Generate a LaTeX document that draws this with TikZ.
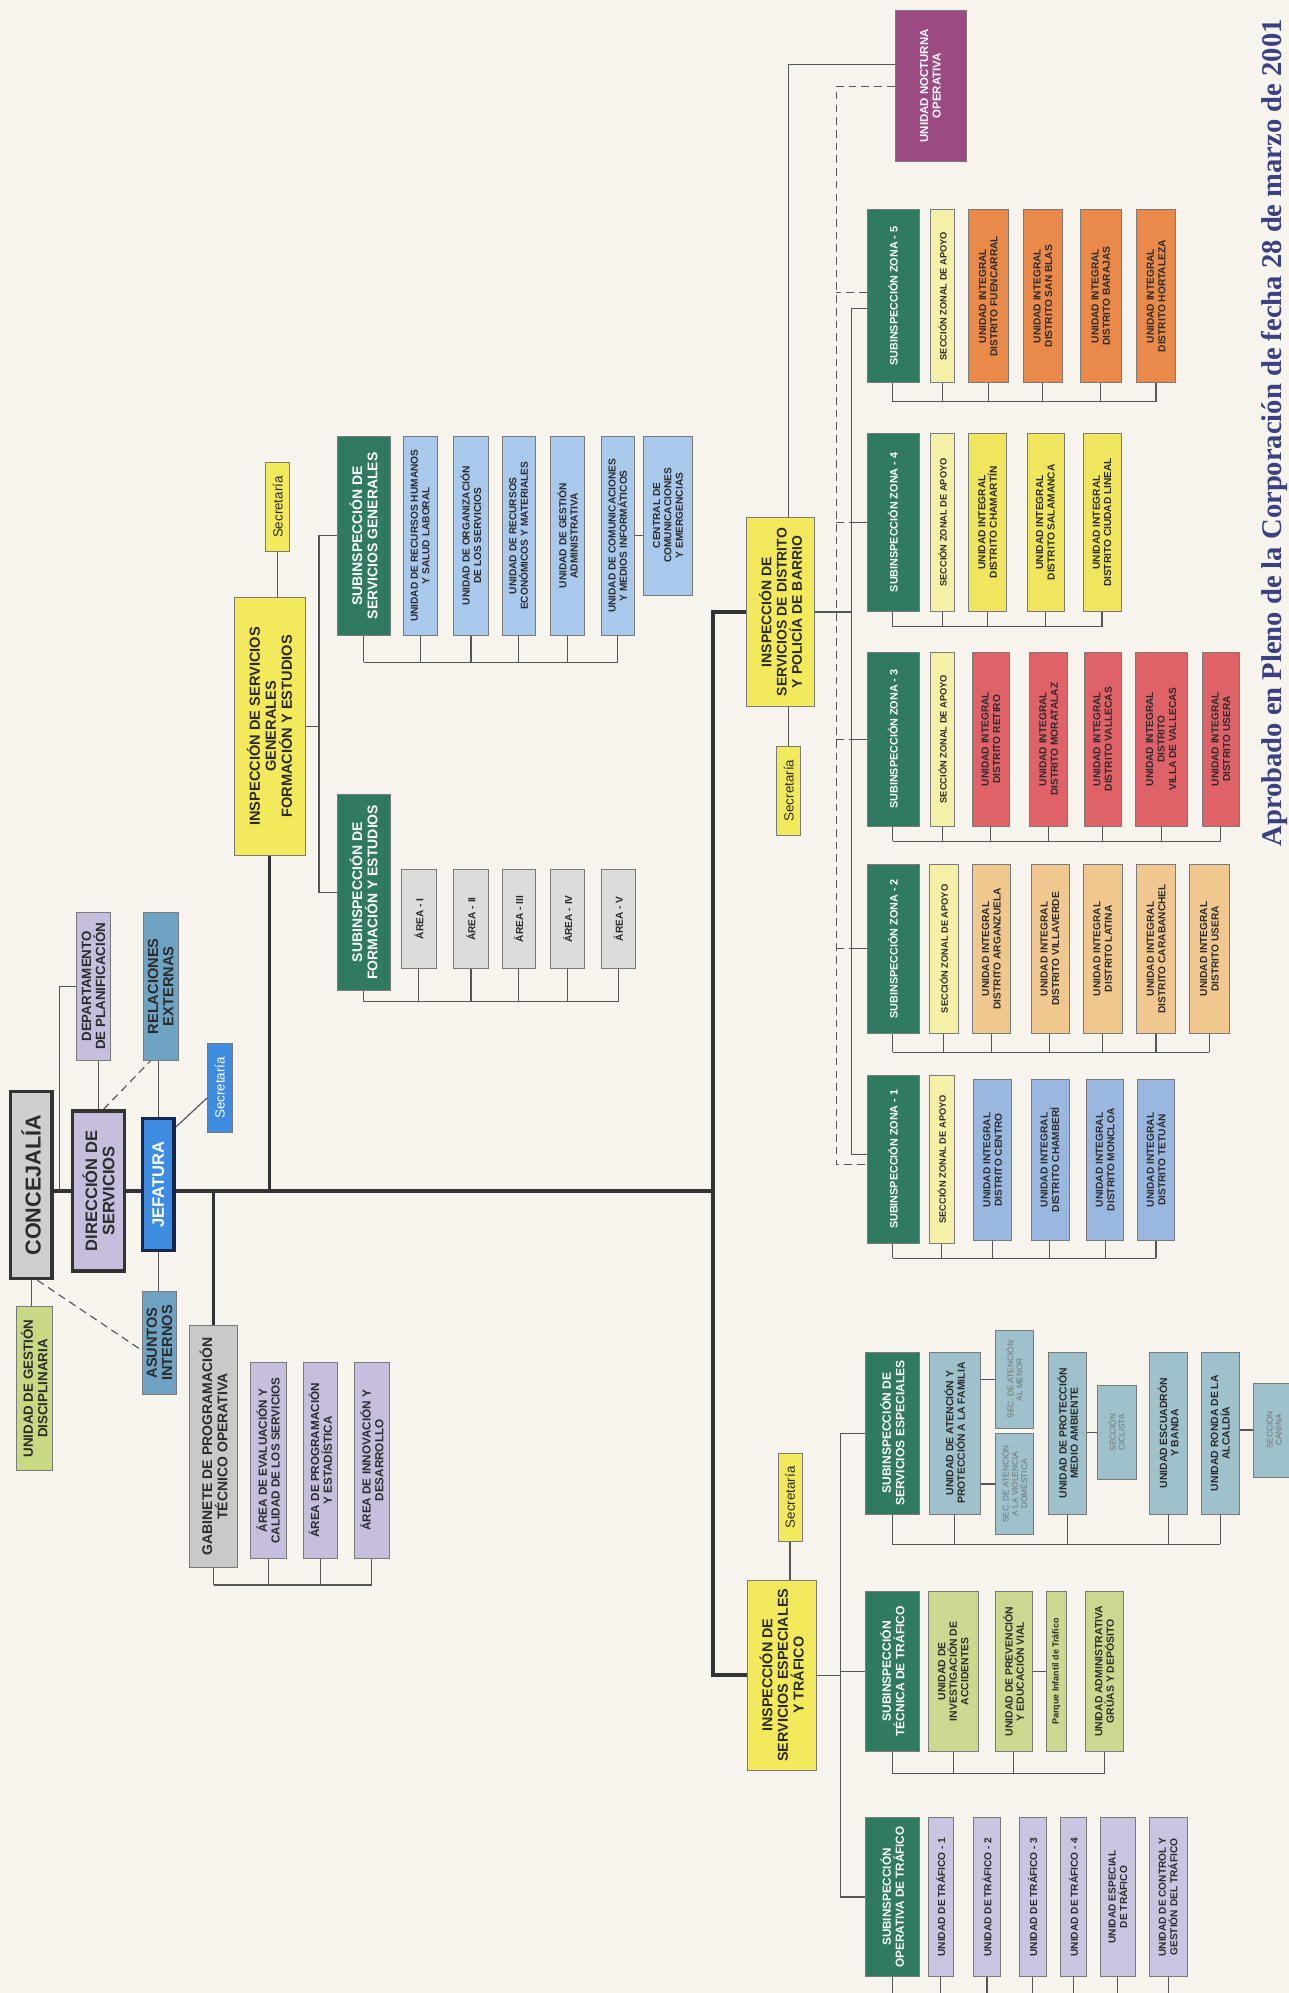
\documentclass[tikz,border=0pt]{standalone}
\usepackage{fontspec}
\setmainfont{Liberation Sans}
\newfontfamily\serifb{Liberation Serif}
\usetikzlibrary{calc}
\pgfdeclarelayer{back}\pgfdeclarelayer{bg}\pgfsetlayers{back,bg,main}
\definecolor{paper}{HTML}{F6F4EC}
\definecolor{boxline}{HTML}{7A7A7A}
\definecolor{txt}{HTML}{2B2B2B}
\definecolor{dgreen}{HTML}{2F7A60}
\definecolor{yel}{HTML}{F2EA5C}
\definecolor{pyel}{HTML}{F4F0A8}
\definecolor{zblue}{HTML}{9AB7DF}
\definecolor{ztan}{HTML}{F0C78F}
\definecolor{zred}{HTML}{DF6268}
\definecolor{zyel}{HTML}{EFE55F}
\definecolor{zora}{HTML}{E98A4A}
\definecolor{sgblue}{HTML}{A8C8EC}
\definecolor{agray}{HTML}{DCDCDA}
\definecolor{ggray}{HTML}{C9C9C7}
\definecolor{lav}{HTML}{C7BEDD}
\definecolor{steel}{HTML}{9EC1CC}
\definecolor{olive}{HTML}{CCD88F}
\definecolor{tlav}{HTML}{C9C5E1}
\definecolor{noct}{HTML}{9B4B82}
\definecolor{cgray}{HTML}{CFCFCD}
\definecolor{jblue}{HTML}{3D8CE0}
\definecolor{jborder}{HTML}{17284F}
\definecolor{relb}{HTML}{6FA3C3}
\definecolor{ugdg}{HTML}{C9D882}
\definecolor{titleblue}{HTML}{3A4080}
\definecolor{lnc}{HTML}{555555}
\definecolor{thkc}{HTML}{333333}
\tikzset{
 box/.style={rotate=90, draw=boxline, line width=0.5pt, align=center, inner sep=1pt, text=txt, font=\bfseries\fontsize{8}{9}\selectfont},
 fs/.style 2 args={font=\bfseries\fontsize{#1}{#2}\selectfont},
 fr/.style 2 args={font=\fontsize{#1}{#2}\selectfont},
 heavy/.style={draw=thkc, line width=2.6pt},
 ln/.style={draw=lnc, line width=0.9pt},
 thk/.style={draw=thkc, line width=3pt},
 dsh/.style={draw=lnc, line width=0.9pt, dash pattern=on 6pt off 4pt},
 green/.style={fill=dgreen, text=white},
 secr/.style={fr={10.5}{11}},
}
\newcommand\bx[7][]{\node[box,#1,minimum width={(#6-#4)*1pt},minimum height={(#5-#3)*1pt}] (#2) at ({(#3+#5)/2},{-(#4+#6)/2}) {#7};}
\newcommand\busd[4]{% y, first, last, list
 \coordinate (busy) at (0,-#1);
 \foreach \n in {#4}{\draw[ln] (\n.west) -- (\n.west |- busy);}
 \draw[ln] (#2.west |- busy) -- (#3.west |- busy);}
\begin{document}
\begin{tikzpicture}[x=1pt,y=1pt]
\begin{pgfonlayer}{back}
\fill[paper] (0,0) rectangle (1014,-1568);
\end{pgfonlayer}
\useasboundingbox (0,0) rectangle (1014,-1568);

% ---------- top-left block ----------
\bx[fill=cgray,heavy,fs={17}{18}]{conc}{8}{859}{41}{1006}{CONCEJALÍA}
\bx[fill=ugdg,fs={10.5}{11.5}]{ugd}{13}{1028}{41}{1157}{UNIDAD DE GESTIÓN\\DISCIPLINARIA}
\bx[fill=lav,heavy,fs={13}{13.5}]{dir}{57}{874}{98}{1000}{DIRECCIÓN DE\\SERVICIOS}
\bx[fill=jblue,draw=jborder,line width=2.6pt,text=white,fs={13}{14}]{jef}{112}{880}{137}{984}{JEFATURA}
\bx[fill=lav,fs={10.5}{11}]{dep}{60}{718}{87}{834}{DEPARTAMENTO\\DE PLANIFICACIÓN}
\bx[fill=relb,fs={11.5}{12}]{rel}{113}{718}{140}{834}{RELACIONES\\EXTERNAS}
\bx[fill=jblue,text=white,secr]{secj}{163}{821}{183}{891}{Secretaría}
\bx[fill=relb,fs={11.5}{12}]{asu}{112}{1016}{139}{1097}{ASUNTOS\\INTERNOS}
\bx[fill=ggray,fs={11}{12}]{gab}{149}{1043}{187}{1233}{GABINETE DE PROGRAMACIÓN\\TÉCNICO OPERATIVA}
\bx[fill=lav,fs={9.2}{10}]{ae}{197}{1072}{225}{1226}{ÁREA DE EVALUACIÓN Y\\CALIDAD DE LOS SERVICIOS}
\bx[fill=lav,fs={9.2}{10}]{ap}{239}{1072}{265}{1226}{ÁREA DE PROGRAMACIÓN\\Y ESTADÍSTICA}
\bx[fill=lav,fs={9.2}{10}]{ai}{279}{1072}{306}{1226}{ÁREA DE INNOVACIÓN Y\\DESARROLLO}

% ---------- servicios generales ----------
\bx[fill=yel,fs={11.5}{12.5}]{isg}{184}{470}{240}{673}{INSPECCIÓN DE SERVICIOS\\GENERALES\\FORMACIÓN Y ESTUDIOS}
\bx[fill=yel,secr]{sec2}{209}{364}{228}{434}{Secretaría}
\bx[green,fs={11}{12}]{sg}{265}{343}{307}{500}{SUBINSPECCIÓN DE\\SERVICIOS GENERALES}
\bx[fill=sgblue]{u1}{317}{343}{344}{500}{UNIDAD DE RECURSOS HUMANOS\\Y SALUD LABORAL}
\bx[fill=sgblue]{u2}{357}{343}{384}{500}{UNIDAD DE ORGANIZACIÓN\\DE LOS SERVICIOS}
\bx[fill=sgblue]{u3}{395}{343}{421}{500}{UNIDAD DE RECURSOS\\ECONÓMICOS Y MATERIALES}
\bx[fill=sgblue]{u4}{433}{343}{460}{500}{UNIDAD DE GESTIÓN\\ADMINISTRATIVA}
\bx[fill=sgblue]{u5}{473}{343}{499}{500}{UNIDAD DE COMUNICACIONES\\Y MEDIOS INFORMÁTICOS}
\bx[fill=sgblue]{cen}{506}{343}{545}{468}{CENTRAL DE\\COMUNICACIONES\\Y EMERGENCIAS}
\bx[green,fs={11}{12}]{fe}{265}{625}{307}{779}{SUBINSPECCIÓN DE\\FORMACIÓN Y ESTUDIOS}
\bx[fill=agray]{a1}{316}{684}{343}{762}{ÁREA - I}
\bx[fill=agray]{a2}{357}{684}{384}{762}{ÁREA - II}
\bx[fill=agray]{a3}{395}{684}{421}{762}{ÁREA - III}
\bx[fill=agray]{a4}{433}{684}{460}{762}{ÁREA - IV}
\bx[fill=agray]{a5}{473}{684}{500}{762}{ÁREA - V}

% ---------- distrito ----------
\bx[fill=yel,fs={11}{12}]{dist}{587}{407}{641}{556}{INSPECCIÓN DE\\SERVICIOS DE DISTRITO\\Y POLICÍA DE BARRIO}
\bx[fill=yel,secr]{sec3}{611}{587}{630}{657}{Secretaría}
\bx[fill=noct,text=white,fs={9}{10}]{noc}{704}{8}{760}{127}{UNIDAD NOCTURNA\\OPERATIVA}

\bx[green,fs={8.5}{9}]{z5}{682}{165}{723}{301}{SUBINSPECCIÓN ZONA - 5}
\bx[fill=pyel,fs={7.3}{8}]{s5}{732}{165}{751}{301}{SECCIÓN ZONAL DE APOYO}
\bx[fill=zora]{fue}{762}{165}{793}{301}{UNIDAD INTEGRAL\\DISTRITO FUENCARRAL}
\bx[fill=zora]{sbl}{805}{165}{836}{301}{UNIDAD INTEGRAL\\DISTRITO SAN BLAS}
\bx[fill=zora]{bar}{850}{165}{882}{301}{UNIDAD INTEGRAL\\DISTRITO BARAJAS}
\bx[fill=zora]{hor}{894}{165}{925}{301}{UNIDAD INTEGRAL\\DISTRITO HORTALEZA}

\bx[green,fs={8.5}{9}]{z4}{682}{341}{723}{481}{SUBINSPECCIÓN ZONA - 4}
\bx[fill=pyel,fs={7.3}{8}]{s4}{732}{341}{751}{481}{SECCIÓN ZONAL DE APOYO}
\bx[fill=zyel]{cha}{762}{341}{792}{481}{UNIDAD INTEGRAL\\DISTRITO CHAMARTÍN}
\bx[fill=zyel]{sal}{808}{341}{837}{481}{UNIDAD INTEGRAL\\DISTRITO SALAMANCA}
\bx[fill=zyel]{cli}{852}{341}{882}{481}{UNIDAD INTEGRAL\\DISTRITO CIUDAD LINEAL}

\bx[green,fs={8.5}{9}]{z3}{682}{513}{723}{650}{SUBINSPECCIÓN ZONA - 3}
\bx[fill=pyel,fs={7.3}{8}]{s3}{732}{513}{751}{650}{SECCIÓN ZONAL DE APOYO}
\bx[fill=zred]{ret}{765}{513}{794}{650}{UNIDAD INTEGRAL\\DISTRITO RETIRO}
\bx[fill=zred]{mor}{810}{513}{840}{650}{UNIDAD INTEGRAL\\DISTRITO MORATALAZ}
\bx[fill=zred]{val}{853}{513}{882}{650}{UNIDAD INTEGRAL\\DISTRITO VALLECAS}
\bx[fill=zred]{vdv}{893}{513}{934}{650}{UNIDAD INTEGRAL\\DISTRITO\\VILLA DE VALLECAS}
\bx[fill=zred]{us3}{946}{513}{975}{650}{UNIDAD INTEGRAL\\DISTRITO USERA}

\bx[green,fs={8.5}{9}]{z2}{682}{680}{723}{813}{SUBINSPECCIÓN ZONA - 2}
\bx[fill=pyel,fs={7.3}{8}]{s2}{731}{680}{754}{813}{SECCIÓN ZONAL DE APOYO}
\bx[fill=ztan]{arg}{765}{680}{795}{813}{UNIDAD INTEGRAL\\DISTRITO ARGANZUELA}
\bx[fill=ztan]{vil}{811}{680}{841}{813}{UNIDAD INTEGRAL\\DISTRITO VILLAVERDE}
\bx[fill=ztan]{lat}{852}{680}{883}{813}{UNIDAD INTEGRAL\\DISTRITO LATINA}
\bx[fill=ztan]{car}{894}{680}{925}{813}{UNIDAD INTEGRAL\\DISTRITO CARABANCHEL}
\bx[fill=ztan]{us2}{936}{680}{967}{813}{UNIDAD INTEGRAL\\DISTRITO USERA}

\bx[green,fs={8.5}{9}]{z1}{682}{846}{723}{978}{SUBINSPECCIÓN ZONA - 1}
\bx[fill=pyel,fs={7.3}{8}]{s1}{731}{846}{751}{978}{SECCIÓN ZONAL DE APOYO}
\bx[fill=zblue]{cen1}{766}{849}{796}{976}{UNIDAD INTEGRAL\\DISTRITO CENTRO}
\bx[fill=zblue]{chb}{811}{849}{841}{976}{UNIDAD INTEGRAL\\DISTRITO CHAMBERÍ}
\bx[fill=zblue]{mon}{855}{849}{884}{976}{UNIDAD INTEGRAL\\DISTRITO MONCLOA}
\bx[fill=zblue]{tet}{895}{849}{924}{976}{UNIDAD INTEGRAL\\DISTRITO TETUÁN}

% ---------- especiales y tráfico ----------
\bx[fill=yel,secr]{sec4}{612}{1143}{631}{1213}{Secretaría}
\bx[fill=yel,fs={11.3}{12.3}]{esp}{588}{1243}{642}{1393}{INSPECCIÓN DE\\SERVICIOS ESPECIALES\\Y TRÁFICO}
\bx[green,fs={9.5}{10.5}]{sse}{681}{1064}{723}{1191}{SUBINSPECCIÓN DE\\SERVICIOS ESPECIALES}
\bx[fill=steel,fs={8.2}{9}]{fam}{731}{1064}{771}{1191}{UNIDAD DE ATENCIÓN Y\\PROTECCIÓN A LA FAMILIA}
\bx[fill=steel,fr={6.5}{7.2},text=black!55]{men}{783}{1047}{813}{1124}{SEC. DE ATENCIÓN\\AL MENOR}
\bx[fill=steel,fr={6.5}{7.2},text=black!55]{vio}{783}{1128}{813}{1207}{SEC. DE ATENCIÓN\\A LA VIOLENCIA\\DOMÉSTICA}
\bx[fill=steel,fs={8.2}{9}]{pma}{825}{1064}{855}{1191}{UNIDAD DE PROTECCIÓN\\MEDIO AMBIENTE}
\bx[fill=steel,fr={6.5}{7.2},text=black!55]{cic}{863}{1090}{894}{1164}{SECCIÓN\\CICLISTA}
\bx[fill=steel,fs={8.2}{9}]{esc}{904}{1064}{934}{1191}{UNIDAD ESCUADRÓN\\Y BANDA}
\bx[fill=steel,fs={8.2}{9}]{ron}{945}{1064}{975}{1191}{UNIDAD RONDA DE LA\\ALCALDÍA}
\bx[fill=steel,fr={6.5}{7.2},text=black!55]{can}{986}{1088}{1018}{1162}{SECCIÓN\\CANINA}

\bx[green,fs={9.5}{10.5}]{stn}{681}{1252}{723}{1378}{SUBINSPECCIÓN\\TÉCNICA DE TRÁFICO}
\bx[fill=olive,fs={8.2}{9}]{inv}{730}{1252}{770}{1378}{UNIDAD DE\\INVESTIGACIÓN DE\\ACCIDENTES}
\bx[fill=olive,fs={8.2}{9}]{pre}{783}{1252}{812}{1378}{UNIDAD DE PREVENCIÓN\\Y EDUCACIÓN VIAL}
\bx[fill=olive,fs={7}{8}]{par}{823}{1252}{839}{1378}{Parque Infantil de Tráfico}
\bx[fill=olive,fs={8.2}{9}]{gru}{854}{1252}{884}{1378}{UNIDAD ADMINISTRATIVA\\GRÚAS Y DEPÓSITO}

\bx[green,fs={9.2}{10.2}]{opt}{681}{1430}{723}{1555}{SUBINSPECCIÓN\\OPERATIVA DE TRÁFICO}
\bx[fill=tlav]{t1}{730}{1430}{750}{1555}{UNIDAD DE TRÁFICO - 1}
\bx[fill=tlav]{t2}{766}{1430}{787}{1555}{UNIDAD DE TRÁFICO - 2}
\bx[fill=tlav]{t3}{802}{1430}{823}{1555}{UNIDAD DE TRÁFICO - 3}
\bx[fill=tlav]{t4}{834}{1430}{855}{1555}{UNIDAD DE TRÁFICO - 4}
\bx[fill=tlav]{tesp}{866}{1430}{893}{1555}{UNIDAD ESPECIAL\\DE TRÁFICO}
\bx[fill=tlav]{tctl}{904}{1430}{934}{1555}{UNIDAD DE CONTROL Y\\GESTIÓN DEL TRÁFICO}

\node[rotate=90, anchor=east, inner sep=0, text=titleblue, font=\serifb\bfseries\fontsize{22.5}{22.5}\selectfont] (apr) at (1003,-15) {Aprobado en Pleno de la Corporación de fecha 28 de marzo de 2001};

% ---------- connectors ----------
\begin{pgfonlayer}{bg}
\coordinate (tr) at (561,-937);
\draw[thk] (conc.south |- tr) -- (tr);
\draw[thk] (dist.north) -| (tr) |- (esp.north);
\draw[thk] (isg.west) -- (isg.west |- tr);
\draw[thk] (gab.east) -- (gab.east |- tr);

\draw[ln] (conc.west) -- (conc.west |- ugd.east);
\coordinate (cd) at (47,-937);
\draw[ln] (cd) |- (dep.north);
\draw[ln] (dir.east) -- (dir.east |- dep.west);
\draw[dsh] ($(dir.east)+(4,0)$) -- ($(rel.north west)+(6,0)$);
\draw[ln] (jef.east) -- (jef.east |- rel.west);
\draw[ln] (jef.west) -- (jef.west |- asu.east);
\draw[ln] ($(jef.south east)+(0,-8)$) -- ($(secj.north)+(0,-8)$);
\draw[dsh] ($(conc.west)+(5,0)$) -- ($(asu.north)+(0,-6)$);
\busd{1247}{gab}{ai}{gab,ae,ap,ai}

\draw[ln] (sec2.west) -- (sec2.west |- isg.east);
\coordinate (b1) at (251,0);
\draw[ln] (isg.south) -- (isg.south -| b1);
\draw[ln] (sg.north) -| (b1 |- fe.north) -- (fe.north);
\draw[ln] (u5.south) -- (u5.south -| cen.north);
\busd{521}{sg}{u5}{sg,u1,u2,u3,u4,u5}
\busd{788}{fe}{a5}{fe,a1,a2,a3,a4,a5}

\coordinate (sv) at (670,0);
\coordinate (dv) at (658,0);
\coordinate (ns) at (0,-51);
\coordinate (nd) at (0,-68);
\draw[ln] (sec3.east) -- (sec3.east |- dist.west);
\draw[ln] (sec3.east |- dist.east) |- (noc.north |- ns);
\draw[ln] (dist.south) -- (dist.south -| sv);
\draw[ln] ($(z5.north)+(0,-10)$) -| ($(sv |- z1.north)+(0,4)$) -- ($(z1.north)+(0,4)$);
\draw[dsh] (noc.north |- nd) -| ($(dv |- z1.north)+(0,-4)$) -- ($(z1.north)+(0,-4)$);
\draw[dsh] ($(z5.north)+(0,3)$) -- ($(dv |- z5.north)+(0,3)$);
\foreach \z in {z4,z3,z2}{
  \draw[dsh] (\z.north -| dv) -- (\z.north -| sv);
  \draw[ln] (\z.north -| sv) -- (\z.north);
}
\busd{316}{z5}{hor}{z5,s5,fue,sbl,bar,hor}
\busd{493}{z4}{cli}{z4,s4,cha,sal,cli}
\busd{662}{z3}{us3}{z3,s3,ret,mor,val,vdv,us3}
\busd{828}{z2}{us2}{z2,s2,arg,vil,lat,car,us2}
\busd{990}{z1}{tet}{z1,s1,cen1,chb,mon,tet}

\draw[ln] (sec4.west) -- (sec4.west |- esp.east);
\coordinate (b3) at (661,0);
\draw[ln] (esp.south) -- (esp.south -| b3);
\draw[ln] (sse.north) -| (b3 |- opt.north) -- (opt.north);
\draw[ln] (stn.north -| b3) -- (stn.north);
\draw[ln] (men.north -| fam.south) -- (men.north);
\draw[ln] (vio.north -| fam.south) -- (vio.north);
\draw[ln] (cic.north -| pma.south) -- (cic.north);
\draw[ln] (can.north -| ron.south) -- (can.north);
\draw[ln] (par.north -| pre.south) -- (par.north);
\busd{1215}{sse}{ron}{sse,fam,pma,esc,ron}
\busd{1395}{stn}{gru}{stn,inv,pre,gru}
\coordinate (bot) at (0,-1575);
\foreach \n in {opt,t1,t2,t3,t4,tesp,tctl}{\draw[ln] (\n.west) -- (\n.west |- bot);}
\end{pgfonlayer}
\end{tikzpicture}
\end{document}
